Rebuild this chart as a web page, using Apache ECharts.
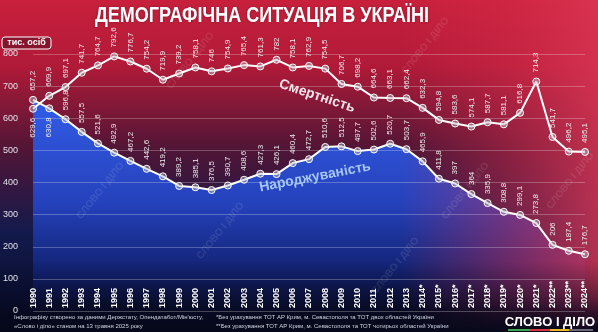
<!DOCTYPE html>
<html><head><meta charset="utf-8">
<script src="https://cdn.jsdelivr.net/npm/echarts@6/dist/echarts.min.js"></script>
<style>html,body{margin:0;padding:0;background:#000;}#c{width:598px;height:332px;}</style>
</head><body><div id="c"></div>
<script>
const years = ['1990','1991','1992','1993','1994','1995','1996','1997','1998','1999','2000','2001','2002','2003','2004','2005','2006','2007','2008','2009','2010','2011','2012','2013','2014*','2015*','2016*','2017*','2018*','2019*','2020*','2021*','2022**','2023**','2024**'];
const deaths = [629.6,669.9,697.1,741.7,764.7,792.6,776.7,754.2,719.9,739.2,758.1,746,754.9,765.4,761.3,782,758.1,762.9,754.5,706.7,698.2,664.6,663.1,662.4,632.3,594.8,583.6,574.1,587.7,581.1,616.8,714.3,541.7,496.2,495.1];
const births = [657.2,630.8,596.8,557.5,521.6,492.9,467.2,442.6,419.2,389.2,385.1,376.5,390.7,408.6,427.3,426.1,460.4,472.7,510.6,512.5,497.7,502.6,520.7,503.7,465.9,411.8,397,364,335.9,308.8,299.1,273.8,206,187.4,176.7];
const belowDeaths = ['1990'];
const belowBirths = ['1991'];
const yTicks = {min: 0, max: 800, interval: 100};

const chart = echarts.init(document.getElementById('c'), null, {renderer: 'canvas'});
const fmt = p => String(p.value).replace('.', ',');
function mkData(vals, below) {
  return vals.map((v, i) => below.includes(years[i])
    ? {value: v, label: {position: 'bottom', align: 'right'}}
    : v);
}
const lbl = {show: true, rotate: 90, position: 'top', align: 'left', verticalAlign: 'middle', distance: 5,
  color: '#eeeeee', fontSize: 8, fontFamily: 'Liberation Sans', formatter: fmt};

const wm = (x, y, r) => ({type: 'text', x, y, rotation: r, z: 1.7, silent: true,
  style: {text: 'СЛОВО І ДІЛО', fill: 'rgba(255,255,255,0.10)', font: 'bold 10px "Liberation Sans"'}});

chart.setOption({
  backgroundColor: {type: 'linear', x: 0, y: 0, x2: 0, y2: 1, colorStops: [
    {offset: 0, color: '#c8203c'}, {offset: 0.2, color: '#b01a38'},
    {offset: 0.45, color: '#501536'}, {offset: 0.7, color: '#131a4c'}, {offset: 1, color: '#060a22'}]},
  animation: false,
  grid: {left: 26, right: 13, top: 54, bottom: 21},
  xAxis: {type: 'category', data: years, boundaryGap: false,
    axisLine: {show: false}, axisTick: {show: false},
    axisLabel: {inside: true, rotate: 90, margin: 3, color: '#ffffff', fontSize: 9, fontWeight: 'bold',
      fontFamily: 'Liberation Sans', interval: 0},
    splitLine: {show: false}, z: 5},
  yAxis: {type: 'value', min: yTicks.min, max: yTicks.max, interval: yTicks.interval,
    axisLine: {show: false}, axisTick: {show: false},
    axisLabel: {color: '#e0e0e8', fontSize: 9, margin: 15, fontFamily: 'Liberation Sans'},
    splitLine: {lineStyle: {color: 'rgba(255,255,255,0.25)', width: 1}}, z: 5},
  series: [
    {name: 'births-area', type: 'line', data: births, z: 1, symbol: 'none', silent: true,
      lineStyle: {width: 0},
      areaStyle: {opacity: 1, color: {type: 'linear', x: 0, y: 0, x2: 0, y2: 1, colorStops: [
        {offset: 0, color: 'rgba(48,92,232,1)'}, {offset: 0.5, color: 'rgba(36,70,200,0.9)'},
        {offset: 0.85, color: 'rgba(20,40,140,0.6)'}, {offset: 1, color: 'rgba(10,20,70,0.3)'}]}}},
    {name: 'Народжуваність', type: 'line', data: mkData(births, belowBirths), z: 3,
      lineStyle: {color: '#ffffff', width: 2}, symbol: 'circle', symbolSize: 7,
      itemStyle: {color: 'rgba(190,190,200,0.45)', borderColor: '#ffffff', borderWidth: 1},
      label: lbl},
    {name: 'Смертність', type: 'line', data: mkData(deaths, belowDeaths), z: 4,
      lineStyle: {color: '#ffffff', width: 2}, symbol: 'circle', symbolSize: 7,
      itemStyle: {color: 'rgba(190,190,200,0.45)', borderColor: '#ffffff', borderWidth: 1},
      label: lbl}
  ],
  graphic: [
    {type: 'rect', z: 1.5, silent: true, shape: {x: 400, y: 0, width: 198, height: 332},
      style: {fill: {type: 'linear', x: 0, y: 0, x2: 1, y2: 0, colorStops: [
        {offset: 0, color: 'rgba(215,45,75,0)'}, {offset: 0.5, color: 'rgba(215,45,75,0.4)'}, {offset: 1, color: 'rgba(220,55,85,0.8)'}]}}},
    {type: 'rect', z: 1.6, silent: true, shape: {x: 0, y: 262, width: 598, height: 70},
      style: {fill: {type: 'linear', x: 0, y: 0, x2: 0, y2: 1, colorStops: [
        {offset: 0, color: 'rgba(8,10,35,0)'}, {offset: 0.5, color: 'rgba(8,10,35,0.45)'}, {offset: 0.72, color: 'rgba(6,8,28,0.75)'}, {offset: 1, color: 'rgba(5,8,26,0.97)'}]}}},
    wm(75, 215, 0.9), wm(400, 70, 0.9), wm(440, 215, 0.9), wm(545, 205, 0.9), wm(165, 85, 0.9), wm(370, 290, 0.9), wm(195, 255, 0.9),
    {type: 'text', x: 262, y: 16, z: 10, scaleX: 0.82,
      style: {text: 'ДЕМОГРАФІЧНА СИТУАЦІЯ В УКРАЇНІ', fill: '#ffffff', font: 'bold 22px "Liberation Sans"',
        align: 'center', verticalAlign: 'middle', textShadowColor: 'rgba(0,0,0,0.3)', textShadowBlur: 3}},
    {type: 'rect', z: 10, shape: {x: 2, y: 37, width: 49, height: 12, r: 3},
      style: {fill: 'rgba(60,10,25,0.4)', stroke: '#ffffff', lineWidth: 1}},
    {type: 'text', x: 26.5, y: 43, z: 11,
      style: {text: 'тис. осіб', fill: '#ffffff', font: 'bold 9px "Liberation Sans"', align: 'center', verticalAlign: 'middle'}},
    {type: 'text', x: 317, y: 96, z: 10, rotation: -0.32,
      style: {text: 'Смертність', fill: '#f6e4ea', font: 'bold 14px "Liberation Sans"', align: 'center', verticalAlign: 'middle'}},
    {type: 'text', x: 315, y: 177, z: 10, rotation: 0.19,
      style: {text: 'Народжуваність', fill: '#a6c6f2', font: 'bold 14px "Liberation Sans"', align: 'center', verticalAlign: 'middle'}},
    {type: 'text', x: 14, y: 317, z: 10,
      style: {text: 'Інфографіку створено за даними Держстату, Опендатабот/Мін\'юсту,', fill: '#cfd3e0', font: '6px "Liberation Sans"', verticalAlign: 'middle'}},
    {type: 'text', x: 14, y: 326, z: 10,
      style: {text: '«Слово і діло» станом на 13 травня 2025 року', fill: '#cfd3e0', font: '6px "Liberation Sans"', verticalAlign: 'middle'}},
    {type: 'text', x: 216, y: 317, z: 10,
      style: {text: '*Без урахування ТОТ АР Крим, м. Севастополя та ТОТ двох областей України', fill: '#cfd3e0', font: '6px "Liberation Sans"', verticalAlign: 'middle'}},
    {type: 'text', x: 216, y: 326, z: 10,
      style: {text: '**Без урахування ТОТ АР Крим, м. Севастополя та ТОТ чотирьох областей України', fill: '#cfd3e0', font: '6px "Liberation Sans"', verticalAlign: 'middle'}},
    {type: 'text', x: 550, y: 322, z: 10,
      style: {text: 'СЛОВО І ДІЛО', fill: '#ffffff', font: 'bold 13px "Liberation Sans"', align: 'center', verticalAlign: 'middle'}},
    {type: 'rect', z: 10, shape: {x: 508, y: 329, width: 22, height: 2}, style: {fill: '#3aa84a'}},
    {type: 'rect', z: 10, shape: {x: 530, y: 329, width: 20, height: 2}, style: {fill: '#d8343c'}},
    {type: 'rect', z: 10, shape: {x: 550, y: 329, width: 19, height: 2}, style: {fill: '#e8b828'}},
    {type: 'rect', z: 10, shape: {x: 569, y: 329, width: 24, height: 2}, style: {fill: '#6a6a78'}}
  ]
});
</script></body></html>
